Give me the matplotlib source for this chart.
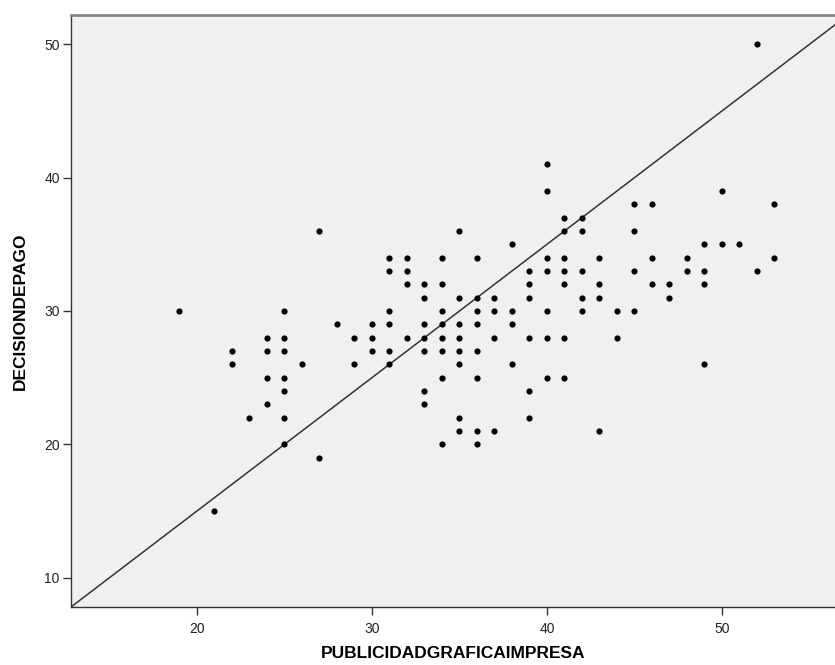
import matplotlib
matplotlib.use("Agg")
import matplotlib.pyplot as plt

plt.rcParams['font.family'] = ['Liberation Sans', 'DejaVu Sans']

# Datos (PUBLICIDADGRAFICAIMPRESA vs DECISIONDEPAGO)
pub = [52,
       40,
       40, 50,
       45, 46, 53,
       41, 42,
       27, 35, 41, 42, 45,
       38, 49, 50, 51,
       31, 32, 34, 36, 40, 41, 43, 46, 48, 53,
       31, 32, 39, 40, 41, 42, 45, 48, 49, 52,
       32, 33, 34, 39, 41, 43, 46, 47, 49,
       33, 35, 36, 37, 39, 42, 43, 47,
       19, 25, 31, 34, 36, 37, 38, 40, 42, 44, 45,
       28, 30, 31, 33, 34, 35, 36, 38,
       24, 25, 29, 30, 32, 33, 34, 35, 37, 39, 40, 41, 44,
       22, 24, 25, 30, 31, 33, 34, 35, 36,
       22, 26, 29, 31, 35, 38, 49,
       24, 25, 34, 36, 40, 41,
       25, 33, 39,
       24, 33,
       23, 25, 35, 39,
       35, 36, 37, 43,
       25, 34, 36,
       27,
       21]
dec = [50,
       41,
       39, 39,
       38, 38, 38,
       37, 37,
       36, 36, 36, 36, 36,
       35, 35, 35, 35,
       34, 34, 34, 34, 34, 34, 34, 34, 34, 34,
       33, 33, 33, 33, 33, 33, 33, 33, 33, 33,
       32, 32, 32, 32, 32, 32, 32, 32, 32,
       31, 31, 31, 31, 31, 31, 31, 31,
       30, 30, 30, 30, 30, 30, 30, 30, 30, 30, 30,
       29, 29, 29, 29, 29, 29, 29, 29,
       28, 28, 28, 28, 28, 28, 28, 28, 28, 28, 28, 28, 28,
       27, 27, 27, 27, 27, 27, 27, 27, 27,
       26, 26, 26, 26, 26, 26, 26,
       25, 25, 25, 25, 25, 25,
       24, 24, 24,
       23, 23,
       22, 22, 22, 22,
       21, 21, 21, 21,
       20, 20, 20,
       19,
       15]

# linea de referencia
pendiente = 1.0
intercepto = -5.0

x_ticks = [20, 30, 40, 50]
y_ticks = [10, 20, 30, 40, 50]

fig = plt.figure(figsize=(8.35, 6.65), dpi=100)
ax = fig.add_axes([0.085, 0.0872, 0.915, 0.8909])
ax.set_facecolor('#f0f0f0')

ax.scatter(pub, dec, s=20, color='black', zorder=3, linewidths=0)

xmin, xmax = 12.8, 56.46
ax.set_xlim(xmin, xmax)
ax.set_ylim(7.8, 52.23)
ax.plot([xmin, xmax], [pendiente * xmin + intercepto, pendiente * xmax + intercepto],
        color='#333333', linewidth=1.1, zorder=2)

ax.set_xticks(x_ticks)
ax.set_yticks(y_ticks)
ax.tick_params(axis='both', direction='out', length=6, width=1.0,
               color='#333333', labelsize=10, labelcolor='#222222', pad=2)
ax.tick_params(axis='x', pad=5)

for lado in ['left', 'bottom']:
    ax.spines[lado].set_color('#333333')
    ax.spines[lado].set_linewidth(1.0)
ax.spines['top'].set_color('#888888')
ax.spines['top'].set_linewidth(2.0)
ax.spines['right'].set_visible(False)

ax.set_xlabel('PUBLICIDADGRAFICAIMPRESA', fontsize=12.5, fontweight='bold', labelpad=7)
ax.set_ylabel('DECISIONDEPAGO', fontsize=12.5, fontweight='bold', labelpad=12)

fig.savefig('out.png', dpi=100)
